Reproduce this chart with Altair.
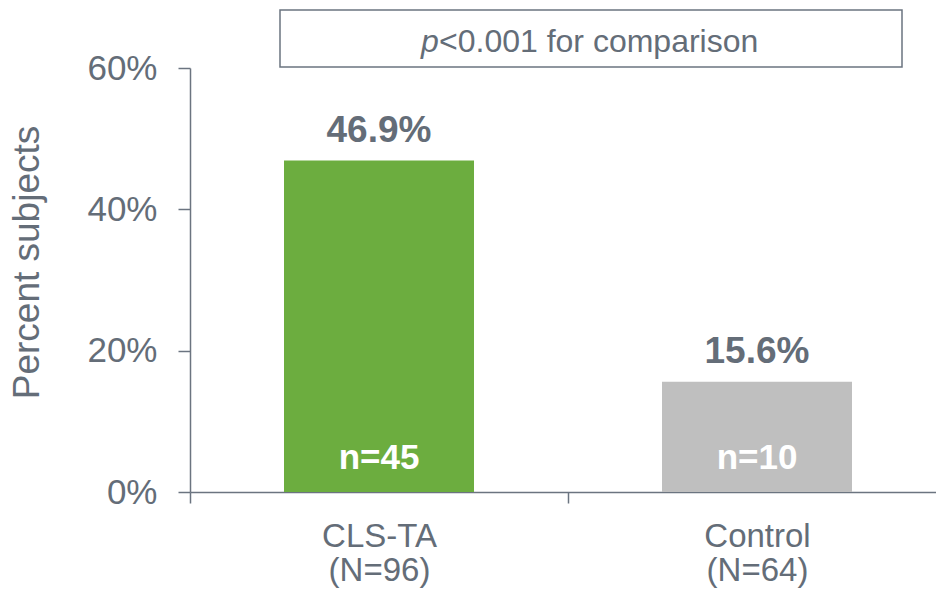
import altair as alt
import pandas as pd

# Responder rates by treatment group
groups = ["CLS-TA", "Control"]
group_sizes = [96, 64]
responders = [45, 10]
percent_subjects = [46.9, 15.6]
bar_colors = ["#6cad3f", "#bfbfbf"]
y_ticks = [0, 20, 40, 60]
note_italic = "p"
note_rest = "<0.001 for comparison"

TEXT = "#646d78"
AXIS = "#6b7480"
FONT = "Liberation Sans"

df = pd.DataFrame({
    "group": [f"{g}|(N={n})" for g, n in zip(groups, group_sizes)],
    "pct": percent_subjects,
    "pct_label": [f"{v:.1f}%" for v in percent_subjects],
    "n_label": [f"n={r}" for r in responders],
    "color": bar_colors,
})

x = alt.X(
    "group:N",
    sort=None,
    scale=alt.Scale(range=[0, 756], paddingInner=0, paddingOuter=0),
    axis=alt.Axis(
        title=None,
        labelAngle=0,
        tickBand="extent",
        labelExpr="split(datum.label, '|')",
        labelLineHeight=34,
        labelFontSize=33,
        labelColor=TEXT,
        labelPadding=17,
        labelBaseline="top",
        tickSize=11,
        tickColor=AXIS,
        tickWidth=1.5,
        domainColor=AXIS,
        domainWidth=1.5,
    ),
)

y = alt.Y(
    "pct:Q",
    scale=alt.Scale(domain=[0, 60], nice=False),
    axis=alt.Axis(
        values=y_ticks,
        labelExpr="datum.value + '%'",
        title="Percent subjects",
        titleFontSize=37,
        titleFontWeight="normal",
        titleColor=TEXT,
        titleAngle=270,
        titleX=-163,
        titleY=194,
        titleAlign="center",
        titleBaseline="middle",
        labelFontSize=35,
        labelColor=TEXT,
        labelPadding=21,
        labelBaseline="middle",
        tickSize=12,
        tickColor=AXIS,
        tickWidth=1.5,
        domainColor=AXIS,
        domainWidth=1.5,
        grid=False,
    ),
)

base = alt.Chart(df)

bars = base.mark_bar(size=190).encode(
    x=x, y=y, color=alt.Color("color:N", scale=None)
)

value_labels = base.mark_text(
    fontSize=37, fontWeight="bold", color=TEXT, baseline="alphabetic", dy=-19
).encode(x=x, y="pct:Q", text="pct_label:N")

n_labels = base.mark_text(
    fontSize=35, fontWeight="bold", color="white", baseline="alphabetic", dy=-23
).encode(x=x, y=alt.datum(0), text="n_label:N")

note_df = pd.DataFrame({"italic": [note_italic], "rest": [note_rest]})
note = alt.Chart(note_df)

note_box = note.mark_rect(fill="white", stroke=AXIS, strokeWidth=1.5).encode(
    x=alt.value(90), x2=alt.value(712), y=alt.value(-58), y2=alt.value(-1)
)
note_p = note.mark_text(
    fontSize=32, fontStyle="italic", color=TEXT, align="left", baseline="alphabetic"
).encode(x=alt.value(231), y=alt.value(-16), text="italic:N")
note_text = note.mark_text(
    fontSize=32, color=TEXT, align="left", baseline="alphabetic"
).encode(x=alt.value(249), y=alt.value(-16), text="rest:N")

chart = (
    alt.layer(bars, value_labels, n_labels, note_box, note_p, note_text)
    .properties(
        width=745,
        height=424,
        autosize=alt.AutoSizeParams(type="none"),
        padding={"left": 190, "top": 68, "right": 1, "bottom": 102},
        background="white",
    )
    .configure(font=FONT)
    .configure_view(stroke=None)
)

chart.save("out.html", embed_options={"renderer": "svg", "actions": False})
